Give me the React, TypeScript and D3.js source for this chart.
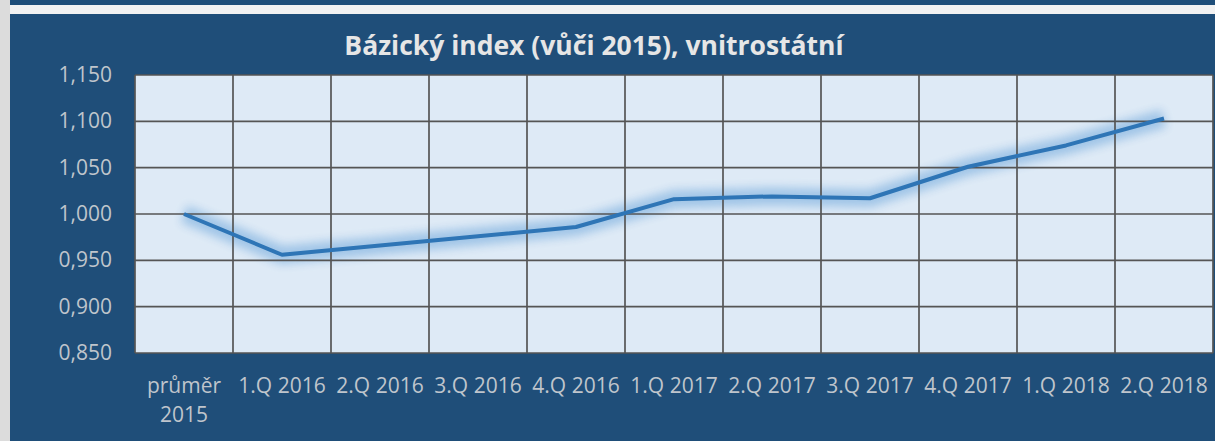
import * as d3 from 'd3'
import { useEffect, useRef } from 'react'

const categories = [
  ['průměr', '2015'],
  ['1.Q 2016'],
  ['2.Q 2016'],
  ['3.Q 2016'],
  ['4.Q 2016'],
  ['1.Q 2017'],
  ['2.Q 2017'],
  ['3.Q 2017'],
  ['4.Q 2017'],
  ['1.Q 2018'],
  ['2.Q 2018']
]
const values = [1.0, 0.956, 0.966, 0.976, 0.986, 1.016, 1.019, 1.017, 1.051, 1.074, 1.103]
const yTicks = [0.85, 0.9, 0.95, 1.0, 1.05, 1.1, 1.15]
const title = 'Bázický index (vůči 2015), vnitrostátní'

const W = 1215
const H = 441

export default function App() {
  const ref = useRef<SVGSVGElement>(null)

  useEffect(() => {
    const svg = d3.select(ref.current)
    svg.selectAll('*').remove()

    const margin = { top: 75, right: 2, bottom: 88, left: 135 }
    const width = W - margin.left - margin.right
    const height = H - margin.top - margin.bottom

    // frame
    svg.append('rect').attr('width', W).attr('height', H).attr('fill', '#dcdcdc')
    svg.append('rect').attr('x', 10).attr('y', 5).attr('width', W - 10).attr('height', 9).attr('fill', '#f2f2f2')
    svg.append('rect').attr('x', 10).attr('y', 0).attr('width', W - 10).attr('height', 5).attr('fill', '#1f4e79')
    svg.append('rect').attr('x', 10).attr('y', 14).attr('width', W - 10).attr('height', H - 14).attr('fill', '#1f4e79')

    const defs = svg.append('defs')
    defs
      .append('filter')
      .attr('id', 'glow')
      .attr('x', '-10%')
      .attr('y', '-50%')
      .attr('width', '120%')
      .attr('height', '200%')
      .append('feGaussianBlur')
      .attr('stdDeviation', 5)

    svg
      .append('text')
      .attr('x', 594)
      .attr('y', 55)
      .attr('text-anchor', 'middle')
      .attr('fill', '#e6e6e6')
      .attr('font-family', 'Open Sans, sans-serif')
      .attr('font-weight', 'bold')
      .attr('font-size', 26.5)
      .text(title)

    const g = svg.append('g').attr('transform', `translate(${margin.left},${margin.top})`)

    const x = d3
      .scaleBand()
      .domain(categories.map((c) => c.join(' ')))
      .range([0, width])
    const y = d3.scaleLinear().domain([0.85, 1.15]).range([height, 0])

    g.append('rect').attr('width', width).attr('height', height).attr('fill', '#deeaf6')

    const line = d3
      .line<number>()
      .x((_, i) => x(categories[i].join(' '))! + x.bandwidth() / 2)
      .y((d) => y(d))

    // glow under the line
    g.append('path')
      .datum(values)
      .attr('d', line)
      .attr('fill', 'none')
      .attr('stroke', '#9dc3e6')
      .attr('stroke-width', 18)
      .attr('opacity', 0.95)
      .attr('filter', 'url(#glow)')

    // grid
    g.selectAll('.hgrid')
      .data(yTicks)
      .enter()
      .append('line')
      .attr('x1', 0)
      .attr('x2', width)
      .attr('y1', (d) => y(d))
      .attr('y2', (d) => y(d))
      .attr('stroke', '#555555')
      .attr('stroke-width', 1.7)

    const bounds = categories.map((c) => x(c.join(' '))!).concat([width])
    g.selectAll('.vgrid')
      .data(bounds)
      .enter()
      .append('line')
      .attr('x1', (d) => d)
      .attr('x2', (d) => d)
      .attr('y1', 0)
      .attr('y2', height)
      .attr('stroke', '#555555')
      .attr('stroke-width', 1.7)

    // y labels
    const fmt = (v: number) => d3.format('.3f')(v).replace('.', ',')
    g.selectAll('.ylab')
      .data(yTicks)
      .enter()
      .append('text')
      .attr('x', -23)
      .attr('y', (d) => y(d) + 7)
      .attr('text-anchor', 'end')
      .attr('fill', '#bfc5cc')
      .attr('font-family', 'Open Sans, sans-serif')
      .attr('font-size', 21)
      .text(fmt)

    // x labels
    categories.forEach((c) => {
      const cx = x(c.join(' '))! + x.bandwidth() / 2
      const t = g
        .append('text')
        .attr('x', cx)
        .attr('y', height + 40)
        .attr('text-anchor', 'middle')
        .attr('fill', '#bfc5cc')
        .attr('font-family', 'Open Sans, sans-serif')
        .attr('font-size', 21)
      c.forEach((s, i) => {
        t.append('tspan')
          .attr('x', cx)
          .attr('dy', i === 0 ? 0 : 29)
          .text(s)
      })
    })

    g.append('path')
      .datum(values)
      .attr('d', line)
      .attr('fill', 'none')
      .attr('stroke', '#2e75b6')
      .attr('stroke-width', 4)
      .attr('stroke-linejoin', 'round')
  }, [])

  return (
    <svg
      ref={ref}
      width={W}
      height={H}
      style={{ position: 'absolute', left: 0, top: 0, display: 'block' }}
    />
  )
}
